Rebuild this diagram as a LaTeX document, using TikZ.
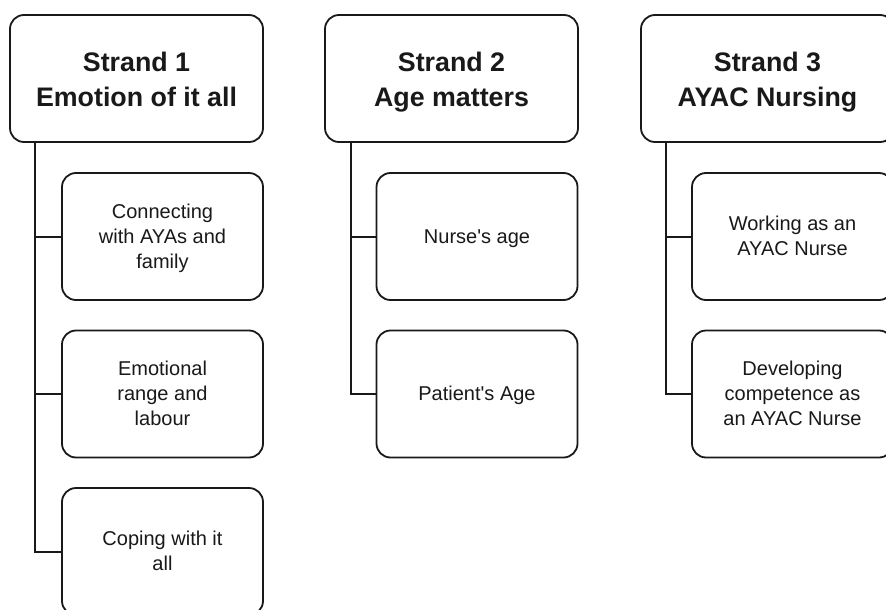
\documentclass[tikz,border=0pt]{standalone}
\usepackage{fontspec}
\setmainfont{Liberation Sans}
\usetikzlibrary{calc}
\newcommand\hdtext[1]{\rule{0pt}{26pt}#1\rule[-6pt]{0pt}{6pt}}
\newcommand\sbtext[1]{\rule{0pt}{18pt}#1\rule[-5pt]{0pt}{5pt}}
\tikzset{
  box/.style={draw=black!90, line width=1.8pt, rounded corners=14pt, align=center,
    inner sep=0pt, fill=white, text=black!90},
  headbox/.style={box, minimum width=253pt, minimum height=127pt,
    font=\fontsize{26.8}{35}\selectfont\bfseries},
  subbox/.style={box, minimum width=201pt, minimum height=127pt,
    font=\fontsize{20}{25}\selectfont},
  link/.style={draw=black!90, line width=2pt}
}
\begin{document}
\begin{tikzpicture}[x=1pt,y=-1pt]
\useasboundingbox (0,0) rectangle (886,610);
\clip (0,0) rectangle (886,610);
% headers
\node[headbox] (h1) at (136.5,78.5) {\hdtext{Strand 1\\Emotion of it all}};
\node[headbox] (h2) at (451.5,78.5) {\hdtext{Strand 2\\Age matters}};
\node[headbox] (h3) at (767.5,78.5) {\hdtext{Strand 3\\AYAC Nursing}};
% children
\node[subbox] (c11) at (162.5,236.5) {\sbtext{Connecting\\with AYAs and\\family}};
\node[subbox] (c12) at (162.5,394) {\sbtext{Emotional\\range and\\labour}};
\node[subbox] (c13) at (162.5,551.5) {\sbtext{Coping with it\\all}};
\node[subbox] (c21) at (477,236.5) {\sbtext{Nurse\textquotesingle s age}};
\node[subbox] (c22) at (477,394) {\sbtext{Patient\textquotesingle s Age}};
\node[subbox] (c31) at (792.5,236.5) {\sbtext{Working as an\\AYAC Nurse}};
\node[subbox] (c32) at (792.5,394) {\sbtext{Developing\\competence as\\an AYAC Nurse}};
% trunks
\coordinate (t1) at ([xshift=26pt]h1.south west);
\coordinate (t2) at ([xshift=27pt]h2.south west);
\coordinate (t3) at ([xshift=26pt]h3.south west);
\draw[link] (t1) |- (c13.west);
\draw[link] (c11.west) -| (t1);
\draw[link] (c12.west) -| (t1);
\draw[link] (t2) |- (c22.west);
\draw[link] (c21.west) -| (t2);
\draw[link] (t3) |- (c32.west);
\draw[link] (c31.west) -| (t3);
\end{tikzpicture}
\end{document}
